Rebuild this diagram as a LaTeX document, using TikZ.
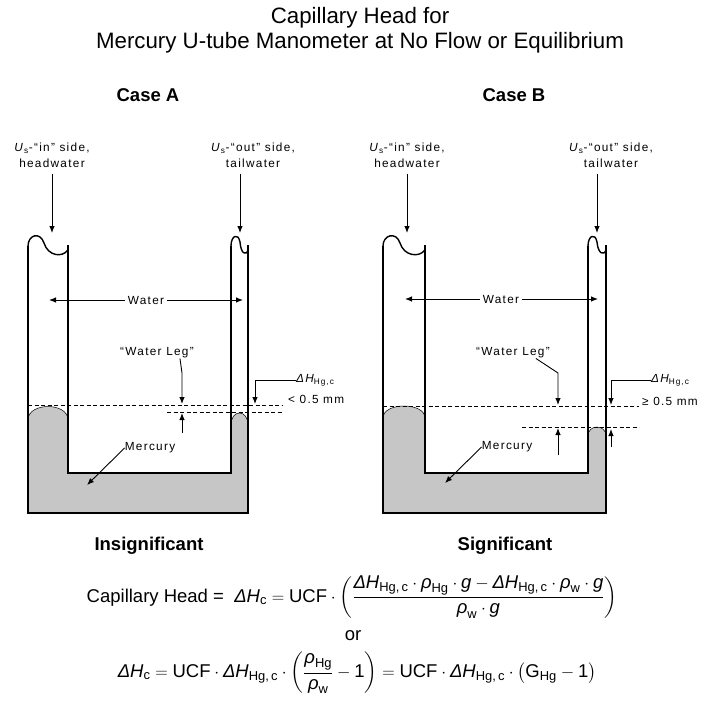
\documentclass[tikz,border=0pt]{standalone}
\usepackage{amsmath}
\usepackage{fontspec}
\setmainfont{Liberation Sans}
\newfontfamily\lblfont[LetterSpace=11]{Liberation Sans}
\usetikzlibrary{arrows.meta}

\newcommand{\lbltext}{\lblfont\fontsize{11.8}{16}\selectfont}
\newcommand{\Dc}{\text{\itshape ΔH}_{\text{c}}}
\newcommand{\dH}{\text{\itshape ΔH}_{\text{Hg,\,c}}}
\newcommand{\rHg}{\text{\itshape ρ}_{\text{Hg}}}
\newcommand{\rw}{\text{\itshape ρ}_{\text{w}}}
\newcommand{\grav}{\text{\itshape g}}

\begin{document}
\begin{tikzpicture}[x=1pt,y=-1pt,
    tube/.style={line width=1.4pt},
    hg/.style={fill=gray!45,draw=black,line width=0.5pt},
    level/.style={dash pattern=on 4pt off 2.5pt,line width=0.8pt},
    arr/.style={-{Latex[length=7pt,width=5.5pt]},line width=0.9pt},
    lbl/.style={font=\lbltext,align=center,inner sep=0pt},
    head/.style={font=\fontsize{18.5}{22}\selectfont\bfseries,inner sep=0pt},
    eqn/.style={font=\fontsize{18.5}{22}\selectfont,inner sep=0pt}]

  \useasboundingbox (0,0) rectangle (706,710);

  \node[font=\fontsize{22.3}{24.5}\selectfont,align=center] (title) at (360,30)
    {Capillary Head for\\Mercury U-tube Manometer at No Flow or Equilibrium};
  \node[head] (caseA) at (148,95) {Case A};
  \node[head] (caseB) at (514,95) {Case B};

  % case A: mercury, tube, levels
  \path[hg] (28,420) .. controls (28,402) and (68,402) .. (68,420) -- (68,473)
    -- (231,473) -- (231,425) .. controls (231,409) and (248,409) .. (248,425)
    -- (248,513) -- (28,513) -- cycle;
  \draw[tube] (28,246) -- (28,513) -- (248,513) -- (248,245);
  \draw[tube] (68,245) -- (68,473) -- (231,473) -- (231,246);
  \draw[tube] (28,246) .. controls (28,235) and (40,231) .. (44,243)
    .. controls (48,256) and (62,258) .. (68,250);
  \draw[tube] (231,246) .. controls (231,236) and (238,232) .. (240,242)
    .. controls (241,254) and (246,256) .. (248,250);
  \draw[level] (28,405) -- (283,405);
  \draw[level] (167,412) -- (283,412);

  % case B: mercury, tube, levels
  \path[hg] (383,418) .. controls (383,402) and (425,402) .. (425,418) -- (425,473)
    -- (588,473) -- (588,436) .. controls (588,424) and (606,424) .. (606,436)
    -- (606,513) -- (383,513) -- cycle;
  \draw[tube] (383,246) -- (383,513) -- (606,513) -- (606,245);
  \draw[tube] (425,245) -- (425,473) -- (588,473) -- (588,246);
  \draw[tube] (383,246) .. controls (383,235) and (396,231) .. (400,243)
    .. controls (404,256) and (419,258) .. (425,250);
  \draw[tube] (588,246) .. controls (588,236) and (595,232) .. (597,242)
    .. controls (598,254) and (604,256) .. (606,250);
  \draw[level] (383,406) -- (639,406);
  \draw[level] (522,427) -- (639,427);

  % labels of case A
  \node[lbl] (inA) at (52,155) {\textit{U}\textsubscript{s}-“in” side,\\headwater};
  \node[lbl] (outA) at (253,155) {\textit{U}\textsubscript{s}-“out” side,\\tailwater};
  \node[lbl,fill=white,inner sep=3pt] (waterA) at (146,300) {Water};
  \node[lbl] (legA) at (157,353) {“Water Leg”};
  \node[lbl] (hgA) at (150,448) {Mercury};
  \node[lbl,anchor=west] (dhA) at (296,380) {$\dH$};
  \node[lbl,anchor=west] (ltA) at (288,399) {< 0.5 mm};
  \node[head] (insig) at (149,546) {Insignificant};

  \coordinate (inAtip) at (52,233);
  \coordinate (outAtip) at (240,233);
  \coordinate (wAl) at (49,300);
  \coordinate (wAr) at (243,300);
  \coordinate (legAk) at (182,373);
  \coordinate (legAtip) at (182,404);
  \coordinate (legAlo) at (182,433);
  \coordinate (legAup) at (182,413);
  \coordinate (hgAtip) at (87,485);
  \coordinate (dhAk) at (255,380);
  \coordinate (dhAtip) at (255,404);

  \draw[arr] (inA.south) ++(0,6) -- (inAtip);
  \draw[arr] (outAtip |- outA.south) ++(0,6) -- (outAtip);
  \draw[arr] (waterA) -- (wAl);
  \draw[arr] (waterA) -- (wAr);
  \draw[arr] ([xshift=-14pt]legA.south east) -- (legAk) -- (legAtip);
  \draw[arr] (legAlo) -- (legAup);
  \draw[arr] (hgA.west) -- (hgAtip);
  \draw[arr] (dhA.west) -- (dhAk) -- (dhAtip);

  % labels of case B
  \node[lbl] (inB) at (407,155) {\textit{U}\textsubscript{s}-“in” side,\\headwater};
  \node[lbl] (outB) at (611,155) {\textit{U}\textsubscript{s}-“out” side,\\tailwater};
  \node[lbl,fill=white,inner sep=3pt] (waterB) at (501,299) {Water};
  \node[lbl] (legB) at (513,353) {“Water Leg”};
  \node[lbl] (hgB) at (507,447) {Mercury};
  \node[lbl,anchor=west] (dhB) at (651,380) {$\dH$};
  \node[lbl,anchor=west] (geB) at (642,401) {≥ 0.5 mm};
  \node[head] (sig) at (505,546) {Significant};

  \coordinate (inBtip) at (407,233);
  \coordinate (outBtip) at (597,233);
  \coordinate (wBl) at (405,299);
  \coordinate (wBr) at (598,299);
  \coordinate (legBk) at (558,373);
  \coordinate (legBtip) at (558,405);
  \coordinate (legBlo) at (558,455);
  \coordinate (legBup) at (558,428);
  \coordinate (hgBtip) at (445,483);
  \coordinate (dhBk) at (611,380);
  \coordinate (dhBtip) at (611,405);
  \coordinate (dhBlo) at (611,447);
  \coordinate (dhBup) at (611,429);

  \draw[arr] (inB.south) ++(0,6) -- (inBtip);
  \draw[arr] (outBtip |- outB.south) ++(0,6) -- (outBtip);
  \draw[arr] (waterB) -- (wBl);
  \draw[arr] (waterB) -- (wBr);
  \draw[arr] ([xshift=-14pt]legB.south east) -- (legBk) -- (legBtip);
  \draw[arr] (legBlo) -- (legBup);
  \draw[arr] (hgB.west) -- (hgBtip);
  \draw[arr] (dhB.west) -- (dhBk) -- (dhBtip);
  \draw[arr] (dhBlo) -- (dhBup);

  % equations
  \node[eqn] (eq1) at (352,597) {Capillary Head =\ \ $\Dc = \text{UCF}\cdot
    \left(\dfrac{\dH\cdot\rHg\cdot\grav - \dH\cdot\rw\cdot\grav}{\rw\cdot\grav}\right)$};
  \node[eqn] (or) at (353,636) {or};
  \node[eqn] (eq2) at (357,673) {$\Dc = \text{UCF}\cdot\dH\cdot
    \left(\dfrac{\rHg}{\rw}-\text{1}\right) = \text{UCF}\cdot\dH\cdot
    \left(\text{G}_{\text{Hg}}-\text{1}\right)$};
\end{tikzpicture}
\end{document}
